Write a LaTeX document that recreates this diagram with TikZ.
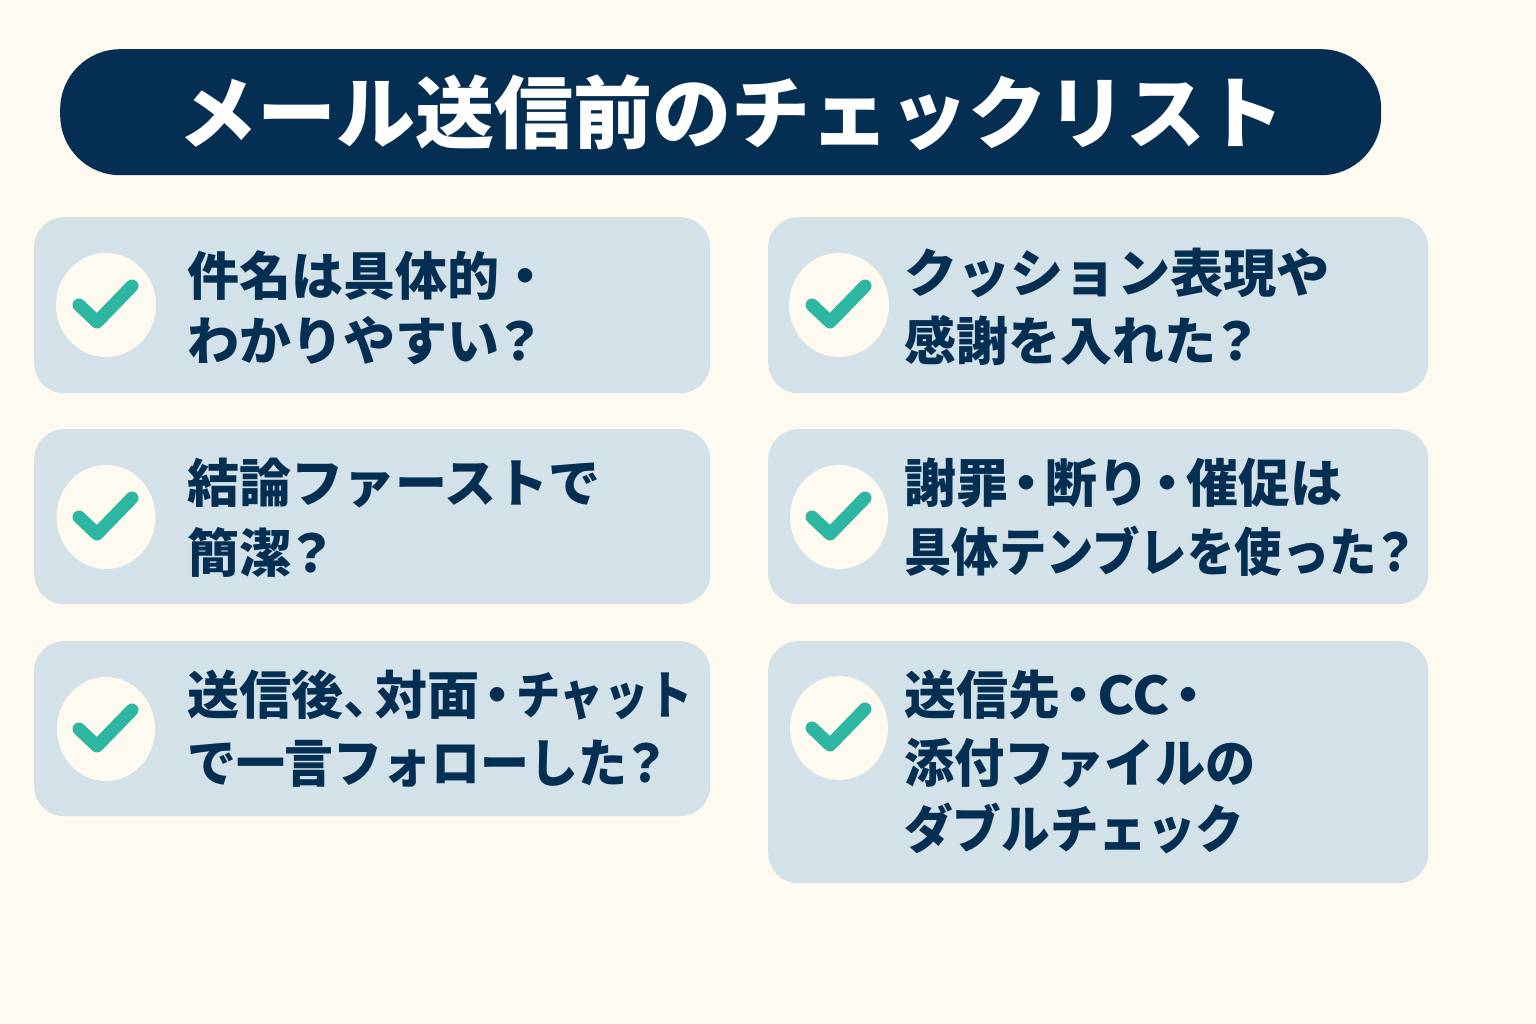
\documentclass[tikz,border=0pt]{standalone}
\usepackage{fontspec}
\usetikzlibrary{shapes.geometric}
\newfontfamily\cjk{Noto Sans CJK JP Black}
\newfontfamily\cjkb{Noto Sans CJK JP Bold}
\definecolor{bg}{HTML}{FFFAF0}
\definecolor{navy}{HTML}{052F52}
\definecolor{card}{HTML}{D3E2E9}
\definecolor{teal}{HTML}{2DB7A3}
\newcommand{\chk}[3]{%
  \node[circ,minimum width=#3] (#1) at (#2) {};
  \coordinate (#1a) at ([shift={(-27,0)}]#1.center);
  \coordinate (#1b) at ([shift={(-9,17)}]#1.center);
  \coordinate (#1c) at ([shift={(26,-19)}]#1.center);
  \draw[chkline] (#1a) -- (#1b) -- (#1c);
}
\newcommand{\dt}{\hspace{-7.5pt}・\hspace{-7.5pt}}
\newcommand{\qm}{\hspace{-6pt}？}
\newcommand{\sx}[2]{\scalebox{#1}[1]{#2}}
\tikzset{x=1pt,y=-1pt,
  cardbox/.style={draw=none,fill=card,rounded corners=30pt,inner sep=0pt,anchor=north west},
  circ/.style={ellipse,fill=bg,inner sep=0pt,minimum height=104pt},
  chkline/.style={draw=teal,line width=13pt,line cap=round,line join=round},
  label/.style={anchor=base west,font=\cjk\fontsize{52}{52}\selectfont,text=navy,inner sep=0pt},
}
\begin{document}
\begin{tikzpicture}
\useasboundingbox[fill=bg] (0,0) rectangle (1536,1024);
\node[fill=navy,rounded corners=60pt,minimum width=1321pt,minimum height=126pt,inner sep=0pt,anchor=north west] (title) at (60,49) {};
\node[font=\cjk\fontsize{79}{79}\selectfont,text=white,inner sep=0pt] (tt) at (731,113) {メール送信前のチェックリスト};
\node[cardbox,minimum width=676pt,minimum height=176pt] (c1) at (34,217) {};
\node[cardbox,minimum width=660pt,minimum height=176pt] (c2) at (768,217) {};
\node[cardbox,minimum width=676pt,minimum height=175pt] (c3) at (34,429) {};
\node[cardbox,minimum width=660pt,minimum height=175pt] (c4) at (768,429) {};
\node[cardbox,minimum width=676pt,minimum height=175pt] (c5) at (34,641) {};
\node[cardbox,minimum width=660pt,minimum height=242pt] (c6) at (768,641) {};
\chk{k1}{106,305}{100pt}
\chk{k2}{839,305}{100pt}
\chk{k3}{106,517}{99pt}
\chk{k4}{839,517}{98pt}
\chk{k5}{106,729}{98pt}
\chk{k6}{839,728}{98pt}
\node[label] (l1a) at (187,295) {件名は具体的・};
\node[label] (l1b) at (187,360) {わかりやすい\qm};
\node[label] (l2a) at (904,292) {\sx{1.024}{クッション表現や}};
\node[label] (l2b) at (904,360) {感謝を入れた\qm};
\node[label] (l3a) at (187,502) {結論ファーストで};
\node[label] (l3b) at (187,572) {簡潔\qm};
\node[label] (l4a) at (904,502) {謝罪\dt 断り\dt 催促は};
\node[label] (l4b) at (904,571) {\sx{0.912}{具体テンブレを使った\qm}};
\node[label] (l5a) at (187,714) {送信後{\cjkb 、\hspace{-20pt}}対面\dt\sx{0.85}{チャット}};
\node[label] (l5b) at (187,782) {\sx{0.94}{で一言フォローした\qm}};
\node[label] (l6a) at (904,714) {送信先\dt\sx{1.08}{CC}\dt};
\node[label] (l6b) at (904,782) {\sx{0.965}{添付ファイルの}};
\node[label] (l6c) at (904,848) {\sx{0.935}{ダブルチェック}};
\end{tikzpicture}
\end{document}
